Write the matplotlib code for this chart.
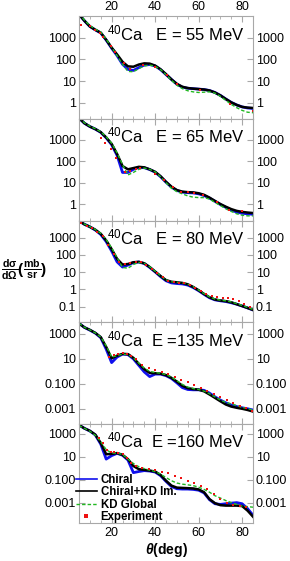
import numpy as np
import matplotlib
matplotlib.use("Agg")
import matplotlib.pyplot as plt
from matplotlib.lines import Line2D
from matplotlib.ticker import FixedLocator, FixedFormatter, MultipleLocator, NullLocator

plt.rcParams['font.family'] = ['Liberation Sans', 'DejaVu Sans']
plt.rcParams['mathtext.fontset'] = 'custom'
plt.rcParams['mathtext.rm'] = 'Liberation Sans'
plt.rcParams['mathtext.it'] = 'Liberation Sans:italic'
plt.rcParams['mathtext.bf'] = 'Liberation Sans:bold'
plt.rcParams['mathtext.bfit'] = 'Liberation Sans:bold:italic'

# angle grid of the calculated curves (deg)
theta = [5, 7.5, 10, 12.5, 15, 17.5, 20, 22.5, 25, 27.5, 30, 32.5, 35, 37.5, 40,
         42.5, 45, 47.5, 50, 52.5, 55, 57.5, 60, 62.5, 65, 67.5, 70, 72.5, 75,
         77.5, 80, 82.5, 85]

# ---- 55 MeV
blue_55 = [12000, 6000, 3300, 2300, 1650, 780, 330, 150, 60, 35, 31, 42, 55, 58, 50,
           34, 20, 12, 7.2, 5.3, 4.7, 4.5, 4.3, 4.1, 3.7, 3.0, 2.2, 1.5, 1.05,
           0.8, 0.65, 0.58, 0.55]
black_55 = [12000, 6000, 3300, 2300, 1700, 800, 350, 170, 78, 48, 46, 58, 66, 64, 52,
            35, 21, 12, 7.5, 5.5, 4.8, 4.5, 4.3, 4.1, 3.7, 3.0, 2.2, 1.5, 1.05,
            0.8, 0.65, 0.6, 0.58]
green_55 = [13000, 6500, 3600, 2500, 1800, 850, 360, 150, 60, 28, 27, 38, 50, 55, 48,
            34, 20, 11, 6.5, 4.5, 3.6, 3.2, 3.0, 3.1, 3.2, 2.8, 2.0, 1.3, 0.85,
            0.6, 0.45, 0.37, 0.35]
exp_ang_55 = [6, 10, 12.5, 14.5, 16, 19.5, 21.5, 25.5, 28.5, 34.5, 40, 45.5, 50, 60.5, 74.5, 85]
exp_55 = [3800, 3300, 2300, 1700, 1100, 420, 230, 70, 38, 58, 45, 20, 7, 4, 0.85, 0.42]

# ---- 65 MeV
blue_65 = [10500, 6000, 4200, 3200, 2250, 1250, 600, 190, 30, 30, 42, 52, 50, 41, 31,
           19, 10.5, 6.2, 4.3, 3.6, 3.4, 3.3, 3.0, 2.5, 1.9, 1.35, 0.95, 0.7, 0.52,
           0.42, 0.37, 0.35, 0.33]
black_65 = [10500, 6000, 4200, 3200, 2300, 1300, 650, 220, 60, 42, 48, 55, 52, 42, 32,
            20, 11, 6.5, 4.5, 3.8, 3.6, 3.5, 3.2, 2.7, 2.0, 1.4, 1.0, 0.75, 0.58,
            0.48, 0.43, 0.4, 0.38]
green_65 = [11000, 6300, 4400, 3300, 2400, 1400, 700, 250, 70, 23, 30, 42, 48, 42, 32,
            19, 10, 5.5, 3.8, 3.0, 2.4, 2.1, 2.0, 2.0, 1.7, 1.2, 0.85, 0.6, 0.45,
            0.35, 0.3, 0.28, 0.28]
exp_ang_65 = [15, 17, 19.5, 22, 26, 28.5, 31, 33, 40, 44, 48, 52, 55, 58, 62, 68.5, 74, 80]
exp_65 = [1200, 700, 380, 150, 33, 35, 45, 50, 25, 14, 6, 3.8, 3.5, 3.2, 2.6, 1.2, 0.5, 0.45]

# ---- 80 MeV
blue_80 = [9500, 6000, 4300, 2800, 1550, 600, 170, 40, 20, 26, 36, 39, 32, 19, 10.5,
           5.6, 3.2, 2.4, 2.2, 2.1, 1.8, 1.3, 0.85, 0.52, 0.33, 0.25, 0.22, 0.2, 0.17,
           0.14, 0.11, 0.085, 0.065]
black_80 = [9500, 6000, 4300, 2900, 1700, 700, 220, 60, 28, 30, 38, 40, 33, 20, 11,
            6, 3.5, 2.8, 2.6, 2.4, 2.0, 1.4, 0.9, 0.55, 0.35, 0.26, 0.23, 0.21, 0.18,
            0.14, 0.11, 0.085, 0.065]
green_80 = [9800, 6200, 4400, 3000, 1800, 780, 260, 70, 19, 17, 28, 37, 33, 21, 11.5,
            6.2, 3.6, 2.8, 2.6, 2.4, 2.0, 1.45, 0.92, 0.57, 0.37, 0.28, 0.24, 0.22, 0.19,
            0.15, 0.12, 0.09, 0.07]
exp_ang_80 = [6, 8.5, 11, 13.5, 16, 18.5, 21, 23.5, 26, 28.5, 31, 33.5, 36, 38.5, 41,
              43.5, 46, 48.5, 51, 53.5, 56, 58.5, 61, 63.5, 66, 68.5, 71, 73.5, 76,
              78.5, 81, 83.5]
exp_80 = [7500, 5000, 3600, 2300, 1200, 400, 110, 38, 30, 33, 40, 38, 28, 16, 9,
          5, 3.2, 2.7, 2.5, 2.3, 1.8, 1.3, 0.85, 0.55, 0.4, 0.35, 0.32, 0.3, 0.27,
          0.22, 0.15, 0.1]

# ---- 135 MeV
blue_135 = [7000, 3300, 2000, 1150, 500, 60, 5, 14, 24, 22, 10, 3, 0.9, 0.38, 0.6,
            0.6, 0.45, 0.27, 0.12, 0.05, 0.035, 0.033, 0.033, 0.03, 0.018, 0.009,
            0.005, 0.003, 0.002, 0.0015, 0.0012, 0.001, 0.0008]
black_135 = [7000, 3300, 2100, 1200, 550, 90, 11, 18, 25, 24, 12, 4, 1.5, 0.75, 0.7,
             0.65, 0.5, 0.3, 0.15, 0.07, 0.045, 0.038, 0.034, 0.025, 0.014, 0.0075,
             0.004, 0.0022, 0.0015, 0.0012, 0.001, 0.0008, 0.0006]
green_135 = [7200, 3400, 2100, 1200, 560, 110, 14, 18, 24, 22, 12, 4.5, 1.8, 1.0, 0.8,
             0.7, 0.55, 0.35, 0.18, 0.09, 0.055, 0.042, 0.035, 0.026, 0.016, 0.009,
             0.005, 0.0032, 0.0025, 0.0018, 0.0013, 0.001, 0.0008]
exp_ang_135 = [19, 21, 23, 25, 27, 29, 31, 34, 37, 40, 43, 46, 49, 52, 55, 58, 61, 64,
               67, 70, 73, 76, 79, 82, 84.5]
exp_135 = [15, 21, 25, 27, 25, 18, 10, 3.5, 1.8, 1.2, 0.9, 0.6, 0.35, 0.22, 0.15, 0.08,
           0.045, 0.025, 0.015, 0.009, 0.005, 0.003, 0.0018, 0.0012, 0.0007]

# ---- 160 MeV
blue_160 = [5500, 2800, 1650, 750, 120, 6, 12, 19, 13, 5, 0.4, 0.5, 0.6, 0.55, 0.45,
            0.22, 0.07, 0.025, 0.016, 0.015, 0.015, 0.014, 0.012, 0.007, 0.0018,
            0.0008, 0.0007, 0.0008, 0.0009, 0.001, 0.0008, 0.0003, 0.00008]
black_160 = [5500, 2800, 1700, 800, 150, 16, 17, 20, 14, 6, 1.5, 0.8, 0.7, 0.6, 0.5,
             0.25, 0.08, 0.03, 0.02, 0.019, 0.018, 0.017, 0.014, 0.008, 0.002,
             0.0009, 0.0006, 0.00055, 0.00055, 0.00055, 0.0005, 0.0002, 0.00006]
green_160 = [5000, 2800, 1600, 700, 200, 40, 20, 20, 15, 6, 2.5, 1.3, 0.9, 0.65, 0.5,
             0.3, 0.15, 0.08, 0.05, 0.04, 0.035, 0.03, 0.022, 0.014, 0.008, 0.004,
             0.0025, 0.0015, 0.001, 0.0007, 0.0005, 0.00045, 0.0004]
exp_ang_160 = [14, 16, 18, 19.5, 21, 23, 25, 27, 29, 31, 34, 37, 40, 43, 46, 49, 52,
               55, 58, 61, 64, 67, 70, 73, 76, 79, 82]
exp_160 = [400, 150, 40, 25, 25, 22, 16, 8, 3, 1.5, 1.0, 0.8, 0.7, 0.5, 0.35, 0.2,
           0.15, 0.08, 0.05, 0.03, 0.015, 0.006, 0.002, 0.001, 0.0006, 0.0005, 0.0004]

labels = [r"$^{40}$Ca   E = 55 MeV", r"$^{40}$Ca   E = 65 MeV", r"$^{40}$Ca   E = 80 MeV",
          r"$^{40}$Ca  E =135 MeV", r"$^{40}$Ca  E =160 MeV"]
blues = [blue_55, blue_65, blue_80, blue_135, blue_160]
blacks = [black_55, black_65, black_80, black_135, black_160]
greens = [green_55, green_65, green_80, green_135, green_160]
exp_angs = [exp_ang_55, exp_ang_65, exp_ang_80, exp_ang_135, exp_ang_160]
exps = [exp_55, exp_65, exp_80, exp_135, exp_160]

ylims = [(0.19, 1.0e4), (0.17, 1.0e4), (0.013, 1.0e4), (6.6e-5, 9000), (1.7e-5, 7400)]
yticks = [[1, 10, 100, 1000], [1, 10, 100, 1000], [0.1, 1, 10, 100, 1000],
          [0.001, 0.1, 10, 1000], [0.001, 0.1, 10, 1000]]
yticklabels = [["1", "10", "100", "1000"], ["1", "10", "100", "1000"],
               ["0.1", "1", "10", "100", "1000"],
               ["0.001", "0.100", "10", "1000"], ["0.001", "0.100", "10", "1000"]]

W, H = 290, 561
fig = plt.figure(figsize=(W / 100, H / 100), dpi=100)
edges = [16, 118.5, 220.5, 322, 423.5, 523]
left, right = 79, 253

BLUE, GREEN, RED = "#1010ee", "#22b822", "#ee1111"
gray = "#a8a8a8"
for i in range(5):
    top, bot = edges[i], edges[i + 1]
    ax = fig.add_axes([left / W, 1 - bot / H, (right - left) / W, (bot - top) / H])
    ax.set_yscale("log")
    ax.plot(theta, blues[i], color=BLUE, lw=2.0)
    ax.plot(theta, blacks[i], color="black", lw=1.8)
    ax.plot(theta, greens[i], color=GREEN, lw=1.0, ls=(0, (2.5, 1.5)))
    ax.plot(exp_angs[i], exps[i], ls="none", marker="s", ms=1.8, mew=0, color=RED)
    ax.set_xlim(5, 85)
    ax.set_ylim(*ylims[i])
    ax.yaxis.set_major_locator(FixedLocator(yticks[i]))
    ax.yaxis.set_major_formatter(FixedFormatter(yticklabels[i]))
    ax.yaxis.set_minor_locator(NullLocator())
    ax.xaxis.set_major_locator(MultipleLocator(20))
    ax.xaxis.set_minor_locator(MultipleLocator(5))
    ax.tick_params(which="both", direction="in", top=True, right=True, color=gray,
                   labelsize=9, pad=2)
    ax.tick_params(which="major", length=4)
    ax.tick_params(which="minor", length=2)
    ax.tick_params(axis="y", labelright=True)
    ax.tick_params(axis="x", labelbottom=(i == 4), labeltop=(i == 0))
    if i == 4:
        ax.tick_params(axis="x", pad=3)
    for s in ax.spines.values():
        s.set_color(gray)
        s.set_linewidth(0.8)
    ax.text(0.955, 1 - 24 / (bot - top), labels[i], transform=ax.transAxes,
            ha="right", va="baseline", fontsize=12)
    if i == 4:
        handles = [Line2D([], [], color=BLUE, lw=1.2),
                   Line2D([], [], color="black", lw=1.2),
                   Line2D([], [], color=GREEN, lw=1.0, ls=(0, (2.5, 1.5))),
                   Line2D([], [], ls="none", marker="s", ms=2.2, mew=0, color=RED)]
        ax.legend(handles, ["Chiral", "Chiral+KD Im.", "KD Global", "Experiment"],
                  loc="lower left", bbox_to_anchor=(-0.015, -0.005), frameon=False,
                  prop={"weight": "bold", "size": 8.3}, handlelength=1.75,
                  handletextpad=0.35, labelspacing=0.05, borderpad=0,
                  borderaxespad=0)
        ax.set_xlabel(r"$\mathbfit{\theta}$(deg)", fontsize=10, fontweight="bold", labelpad=1)

fig.text(1 / W, 1 - 270 / H, r"$\mathbf{\frac{d\sigma}{d\Omega}(\frac{mb}{sr})}$",
         ha="left", va="center", fontsize=11)

plt.savefig("out.png", dpi=100)
